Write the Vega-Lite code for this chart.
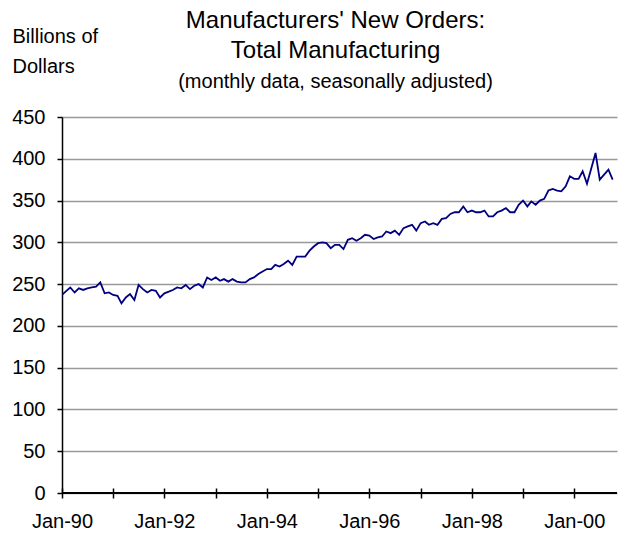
{
  "$schema": "https://vega.github.io/schema/vega-lite/v6.json",
  "autosize": "none",
  "width": 555,
  "height": 376,
  "padding": {"left": 62, "top": 117, "right": 1, "bottom": 44},
  "background": "white",
  "title": {
    "text": ["Manufacturers' New Orders:", "Total Manufacturing"],
    "subtitle": "(monthly data, seasonally adjusted)",
    "anchor": "middle",
    "frame": "group",
    "dx": -4,
    "dy": 76,
    "font": "Liberation Sans",
    "fontSize": 24,
    "fontWeight": "normal",
    "lineHeight": 30,
    "color": "black",
    "subtitleFont": "Liberation Sans",
    "subtitleFontSize": 20,
    "subtitleColor": "black",
    "subtitlePadding": 9,
    "offset": 10
  },
  "config": {
    "view": {"stroke": null},
    "axis": {"labelFont": "Liberation Sans", "titleFont": "Liberation Sans", "labelColor": "black", "titleColor": "black"}
  },
  "data": {"values": [
    {"date": "1990-01-01", "value": 237}, {"date": "1990-02-01", "value": 242}, {"date": "1990-03-01", "value": 246}, {"date": "1990-04-01", "value": 240},
    {"date": "1990-05-01", "value": 245}, {"date": "1990-06-01", "value": 243}, {"date": "1990-07-01", "value": 245}, {"date": "1990-08-01", "value": 246},
    {"date": "1990-09-01", "value": 247}, {"date": "1990-10-01", "value": 252}, {"date": "1990-11-01", "value": 239}, {"date": "1990-12-01", "value": 240},
    {"date": "1991-01-01", "value": 237}, {"date": "1991-02-01", "value": 236}, {"date": "1991-03-01", "value": 227}, {"date": "1991-04-01", "value": 234},
    {"date": "1991-05-01", "value": 238}, {"date": "1991-06-01", "value": 231}, {"date": "1991-07-01", "value": 249}, {"date": "1991-08-01", "value": 244},
    {"date": "1991-09-01", "value": 240}, {"date": "1991-10-01", "value": 243}, {"date": "1991-11-01", "value": 242}, {"date": "1991-12-01", "value": 234},
    {"date": "1992-01-01", "value": 239}, {"date": "1992-02-01", "value": 241}, {"date": "1992-03-01", "value": 243}, {"date": "1992-04-01", "value": 246},
    {"date": "1992-05-01", "value": 245}, {"date": "1992-06-01", "value": 249}, {"date": "1992-07-01", "value": 244}, {"date": "1992-08-01", "value": 248},
    {"date": "1992-09-01", "value": 250}, {"date": "1992-10-01", "value": 246}, {"date": "1992-11-01", "value": 258}, {"date": "1992-12-01", "value": 255},
    {"date": "1993-01-01", "value": 258}, {"date": "1993-02-01", "value": 254}, {"date": "1993-03-01", "value": 256}, {"date": "1993-04-01", "value": 253},
    {"date": "1993-05-01", "value": 256}, {"date": "1993-06-01", "value": 253}, {"date": "1993-07-01", "value": 252}, {"date": "1993-08-01", "value": 252},
    {"date": "1993-09-01", "value": 256}, {"date": "1993-10-01", "value": 258}, {"date": "1993-11-01", "value": 262}, {"date": "1993-12-01", "value": 265},
    {"date": "1994-01-01", "value": 268}, {"date": "1994-02-01", "value": 268}, {"date": "1994-03-01", "value": 273}, {"date": "1994-04-01", "value": 271},
    {"date": "1994-05-01", "value": 274}, {"date": "1994-06-01", "value": 278}, {"date": "1994-07-01", "value": 273}, {"date": "1994-08-01", "value": 283},
    {"date": "1994-09-01", "value": 283}, {"date": "1994-10-01", "value": 283}, {"date": "1994-11-01", "value": 290}, {"date": "1994-12-01", "value": 295},
    {"date": "1995-01-01", "value": 299}, {"date": "1995-02-01", "value": 300}, {"date": "1995-03-01", "value": 299}, {"date": "1995-04-01", "value": 293},
    {"date": "1995-05-01", "value": 297}, {"date": "1995-06-01", "value": 297}, {"date": "1995-07-01", "value": 292}, {"date": "1995-08-01", "value": 303},
    {"date": "1995-09-01", "value": 305}, {"date": "1995-10-01", "value": 302}, {"date": "1995-11-01", "value": 305}, {"date": "1995-12-01", "value": 309},
    {"date": "1996-01-01", "value": 308}, {"date": "1996-02-01", "value": 304}, {"date": "1996-03-01", "value": 306}, {"date": "1996-04-01", "value": 307},
    {"date": "1996-05-01", "value": 313}, {"date": "1996-06-01", "value": 311}, {"date": "1996-07-01", "value": 314}, {"date": "1996-08-01", "value": 309},
    {"date": "1996-09-01", "value": 317}, {"date": "1996-10-01", "value": 319}, {"date": "1996-11-01", "value": 321}, {"date": "1996-12-01", "value": 314},
    {"date": "1997-01-01", "value": 323}, {"date": "1997-02-01", "value": 325}, {"date": "1997-03-01", "value": 321}, {"date": "1997-04-01", "value": 323},
    {"date": "1997-05-01", "value": 321}, {"date": "1997-06-01", "value": 328}, {"date": "1997-07-01", "value": 329}, {"date": "1997-08-01", "value": 334},
    {"date": "1997-09-01", "value": 336}, {"date": "1997-10-01", "value": 336}, {"date": "1997-11-01", "value": 343}, {"date": "1997-12-01", "value": 336},
    {"date": "1998-01-01", "value": 338}, {"date": "1998-02-01", "value": 336}, {"date": "1998-03-01", "value": 336}, {"date": "1998-04-01", "value": 338},
    {"date": "1998-05-01", "value": 331}, {"date": "1998-06-01", "value": 331}, {"date": "1998-07-01", "value": 336}, {"date": "1998-08-01", "value": 338},
    {"date": "1998-09-01", "value": 341}, {"date": "1998-10-01", "value": 336}, {"date": "1998-11-01", "value": 336}, {"date": "1998-12-01", "value": 345},
    {"date": "1999-01-01", "value": 350}, {"date": "1999-02-01", "value": 343}, {"date": "1999-03-01", "value": 349}, {"date": "1999-04-01", "value": 345},
    {"date": "1999-05-01", "value": 350}, {"date": "1999-06-01", "value": 352}, {"date": "1999-07-01", "value": 362}, {"date": "1999-08-01", "value": 364},
    {"date": "1999-09-01", "value": 362}, {"date": "1999-10-01", "value": 361}, {"date": "1999-11-01", "value": 367}, {"date": "1999-12-01", "value": 379},
    {"date": "2000-01-01", "value": 376}, {"date": "2000-02-01", "value": 376}, {"date": "2000-03-01", "value": 385}, {"date": "2000-04-01", "value": 370},
    {"date": "2000-05-01", "value": 388}, {"date": "2000-06-01", "value": 407}, {"date": "2000-07-01", "value": 375}, {"date": "2000-08-01", "value": 381},
    {"date": "2000-09-01", "value": 387}, {"date": "2000-10-01", "value": 375}
  ]},
  "layer": [
    {
      "mark": {"type": "line", "color": "#000080", "strokeWidth": 1.8, "clip": true},
      "encoding": {
        "x": {
          "field": "date", "type": "temporal",
          "scale": {"type": "utc", "domain": [{"year": 1990, "month": 1, "date": 1, "utc": true}, {"year": 2000, "month": 11, "date": 1, "utc": true}]},
          "axis": {
            "title": null,
            "values": [
              {"year": 1990, "month": 1, "date": 1, "utc": true}, {"year": 1991, "month": 1, "date": 1, "utc": true},
              {"year": 1992, "month": 1, "date": 1, "utc": true}, {"year": 1993, "month": 1, "date": 1, "utc": true},
              {"year": 1994, "month": 1, "date": 1, "utc": true}, {"year": 1995, "month": 1, "date": 1, "utc": true},
              {"year": 1996, "month": 1, "date": 1, "utc": true}, {"year": 1997, "month": 1, "date": 1, "utc": true},
              {"year": 1998, "month": 1, "date": 1, "utc": true}, {"year": 1999, "month": 1, "date": 1, "utc": true},
              {"year": 2000, "month": 1, "date": 1, "utc": true}
            ],
            "labelExpr": "utcyear(datum.value) % 2 == 0 ? utcFormat(datum.value, '%b-%y') : ''",
            "grid": false,
            "domain": false,
            "offset": -5,
            "tickSize": 10,
            "tickColor": "black",
            "tickWidth": 1.5,
            "labelPadding": 13,
            "labelFontSize": 20,
            "labelAngle": 0,
            "labelOverlap": false,
            "labelFlush": false
          }
        },
        "y": {
          "field": "value", "type": "quantitative",
          "scale": {"domain": [0, 450], "nice": false, "zero": true},
          "axis": {
            "values": [0, 50, 100, 150, 200, 250, 300, 350, 400, 450],
            "title": ["Billions of", "Dollars"],
            "titleAngle": 0,
            "titleAlign": "left",
            "titleBaseline": "top",
            "titleX": -50,
            "titleY": -91,
            "titleFontSize": 20,
            "titleFontWeight": "normal",
            "titleLineHeight": 30,
            "grid": true,
            "gridColor": "#999999",
            "gridWidth": 1.5,
            "domainColor": "black",
            "domainWidth": 1.5,
            "tickColor": "black",
            "tickWidth": 1.5,
            "tickSize": 5,
            "labelPadding": 12,
            "labelFontSize": 20
          }
        }
      }
    },
    {
      "mark": {"type": "rule", "color": "black", "strokeWidth": 1.5},
      "encoding": {"y": {"datum": 0}}
    }
  ]
}
